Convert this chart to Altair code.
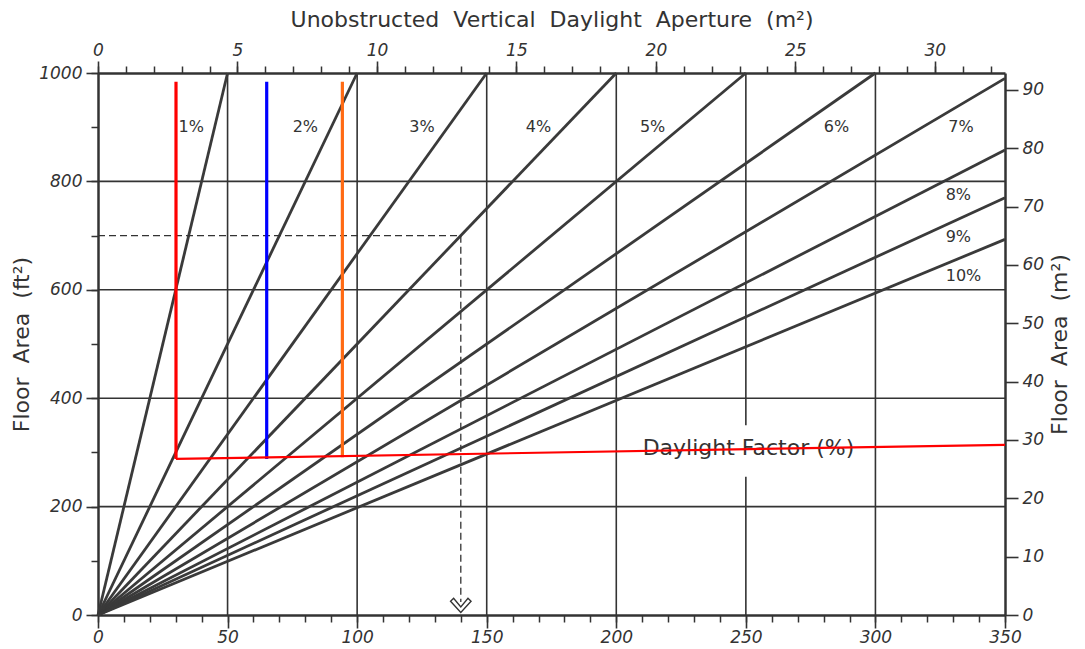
import altair as alt
import pandas as pd

FT2_PER_M2 = 10.764
INK = "#333333"
FONT = "DejaVu Sans"
NB = "\u00a0"

# Daylight-factor lines: each runs from the origin to its end point (ft² aperture, ft² floor)
df_names = ["1%", "2%", "3%", "4%", "5%", "6%", "7%", "8%", "9%", "10%"]
df_end_aperture = [50, 100, 150, 200, 250, 300, 350, 350, 350, 350]
df_end_floor = [1000, 1000, 1000, 1000, 1000, 1000, 990, 858, 770, 693]
df_label_x = [36, 80, 125, 170, 214, 285, 333, 332, 332, 334]
df_label_y = [900, 900, 900, 900, 900, 900, 901, 775, 697, 626]

# grid lines (vertical ones as segments; the 250 line is broken around the label)
grid_v_x = [50, 100, 150, 200, 250, 250, 300]
grid_v_from = [0, 0, 0, 0, 0, 350, 0]
grid_v_to = [1000, 1000, 1000, 1000, 255, 1000, 1000]
grid_h_y = [200, 400, 600, 800]

# axis tick values
bottom_major = list(range(0, 351, 50))
bottom_minor = list(range(0, 351, 10))
left_major = list(range(0, 1001, 200))
left_minor = list(range(0, 1001, 100))
top_major = list(range(0, 33, 5))
top_minor = list(range(0, 33))
right_ticks = list(range(0, 91, 10))

# highlighted apertures
mark_names = ["red", "blue", "orange"]
mark_x = [30.1, 65.1, 94.3]
mark_bottom = [288, 288, 291]
mark_top = [984, 984, 984]
mark_colors = ["#ff0000", "#0000ff", "#ff6a13"]

# red reference line
ref_x = [30.1, 350]
ref_y = [288, 314]

# worked example (dashed)
ex_x = [0, 140, 140]
ex_y = [700, 700, 24]
arrow_x = [140]
arrow_y = [14]

df_title = "Daylight Factor (%)"
df_title_x = [251]
df_title_y = [308]

top_title = f"Unobstructed{NB} Vertical{NB} Daylight{NB} Aperture{NB} (m²)"
left_title = f"Floor{NB} Area{NB} (ft²)"
right_title = f"Floor{NB} Area{NB} (m²)"

# ---------------------------------------------------------------- scales/axes
XS = alt.Scale(domain=[0, 350], nice=False, zero=False)
YS = alt.Scale(domain=[0, 1000], nice=False, zero=False)
XM = alt.Scale(domain=[0, 350 / FT2_PER_M2], nice=False, zero=False)
YM = alt.Scale(domain=[0, 1000 / FT2_PER_M2], nice=False, zero=False)

axis_common = dict(
    grid=False, tickWidth=1.6, tickColor=INK,
    domainColor=INK, domainWidth=2.5,
    labelFont=FONT, labelFontSize=17, labelFontStyle="italic", labelColor=INK,
    labelOverlap=False, labelFlush=False,
    titleFont=FONT, titleFontWeight="normal", titleColor=INK,
)
minor_common = dict(grid=False, tickWidth=1.5, tickColor=INK, tickSize=7,
                    labels=False, domain=False, title=None)

X_AXIS = alt.Axis(orient="bottom", values=bottom_major, title=None, tickSize=13,
                  labelPadding=1, **axis_common)
Y_AXIS = alt.Axis(orient="left", values=left_major, title=left_title, format="d",
                  tickSize=12, labelPadding=4, titlePadding=5, titleFontSize=22,
                  **axis_common)
TOP_AXIS = alt.Axis(orient="top", values=top_major, title=top_title, tickSize=12,
                    labelPadding=2, titlePadding=10, titleFontSize=22, **axis_common)
RIGHT_AXIS = alt.Axis(orient="right", values=right_ticks, title=right_title,
                      titleAngle=270, titleBaseline="top", tickSize=13, labelPadding=4,
                      titlePadding=6, titleFontSize=22, **axis_common)
X_MINOR = alt.Axis(orient="bottom", values=bottom_minor, **minor_common)
Y_MINOR = alt.Axis(orient="left", values=left_minor, **minor_common)
TOP_MINOR = alt.Axis(orient="top", values=top_minor, **minor_common)


def X(f):
    return alt.X(f"{f}:Q", scale=XS, axis=X_AXIS)


def Y(f):
    return alt.Y(f"{f}:Q", scale=YS, axis=Y_AXIS)


# ---------------------------------------------------------------- data tables
lines_rows = []
for n, ex, ey in zip(df_names, df_end_aperture, df_end_floor):
    lines_rows.append({"df": n, "ap": 0, "fl": 0, "o": 0})
    lines_rows.append({"df": n, "ap": ex, "fl": ey, "o": 1})
lines_df = pd.DataFrame(lines_rows)

labels_df = pd.DataFrame({"df": df_names, "ap": df_label_x, "fl": df_label_y})
gv_df = pd.DataFrame({"ap": grid_v_x, "f0": grid_v_from, "f1": grid_v_to})
gh_df = pd.DataFrame({"fl": grid_h_y})
marks_df = pd.DataFrame({"name": mark_names, "ap": mark_x, "f0": mark_bottom, "f1": mark_top})
ref_df = pd.DataFrame({"ap": [ref_x[0]], "ap2": [ref_x[1]], "fl": [ref_y[0]], "fl2": [ref_y[1]]})
ex_df = pd.DataFrame({"ap": ex_x, "fl": ex_y, "o": list(range(len(ex_x)))})
arrow_df = pd.DataFrame({"ap": arrow_x, "fl": arrow_y})
title_df = pd.DataFrame({"ap": df_title_x, "fl": df_title_y, "t": [df_title]})
ft_df = pd.DataFrame({"ap": [0, 350], "fl": [0, 1000]})
m2_df = pd.DataFrame({"ap_m2": [0, 350 / FT2_PER_M2], "fl_m2": [0, 1000 / FT2_PER_M2]})

# ---------------------------------------------------------------- layers
grid_v = alt.Chart(gv_df).mark_rule(color=INK, strokeWidth=1.6).encode(
    x=X("ap"), y=Y("f0"), y2="f1")
grid_h = alt.Chart(gh_df).mark_rule(color=INK, strokeWidth=1.6).encode(y=Y("fl"))

df_lines = alt.Chart(lines_df).mark_line(color="#3a3a3a", strokeWidth=2.8).encode(
    x=X("ap"), y=Y("fl"), detail="df:N", order="o:Q")

df_text = alt.Chart(labels_df).mark_text(font=FONT, fontSize=16, color=INK).encode(
    x=X("ap"), y=Y("fl"), text="df:N")

example = alt.Chart(ex_df).mark_line(color=INK, strokeWidth=1.3, strokeDash=[7, 4]).encode(
    x=X("ap"), y=Y("fl"), order="o:Q")

arrow = alt.Chart(arrow_df).mark_point(
    shape="M-1,-0.6L0,0.5L1,-0.6L0.7,-0.9L0,-0.05L-0.7,-0.9Z",
    size=420, filled=False, color=INK, strokeWidth=1.4, opacity=1).encode(
    x=X("ap"), y=Y("fl"))

colored = alt.Chart(marks_df).mark_rule(strokeWidth=3.2).encode(
    x=X("ap"), y=Y("f0"), y2="f1",
    color=alt.Color("name:N", scale=alt.Scale(domain=mark_names, range=mark_colors), legend=None))

ref_line = alt.Chart(ref_df).mark_rule(color="#ff0000", strokeWidth=2.2).encode(
    x=X("ap"), x2="ap2", y=Y("fl"), y2="fl2")

title_text = alt.Chart(title_df).mark_text(font=FONT, fontSize=22, color=INK).encode(
    x=X("ap"), y=Y("fl"), text="t:N")

main = alt.layer(grid_v, grid_h, df_lines, example, arrow, title_text, colored, ref_line, df_text)

# secondary (metric) axes
metric = alt.Chart(m2_df).mark_point(opacity=0).encode(
    x=alt.X("ap_m2:Q", scale=XM, axis=TOP_AXIS),
    y=alt.Y("fl_m2:Q", scale=YM, axis=RIGHT_AXIS),
)

# minor tick marks
minor_ft = alt.Chart(ft_df).mark_point(opacity=0).encode(
    x=alt.X("ap:Q", scale=XS, axis=X_MINOR),
    y=alt.Y("fl:Q", scale=YS, axis=Y_MINOR),
)
minor_m2 = alt.Chart(m2_df).mark_point(opacity=0).encode(
    x=alt.X("ap_m2:Q", scale=XM, axis=TOP_MINOR),
    y=alt.Y("fl_m2:Q", scale=YM, axis=None),
)

chart = alt.layer(minor_ft, minor_m2, main, metric).resolve_scale(
    x="independent", y="independent").properties(
    width=907, height=542,
    autosize=alt.AutoSizeParams(type="none"),
    padding={"left": 90, "top": 65, "right": 72, "bottom": 34},
    background="white",
).configure_view(stroke=None)

chart.save("out.html", embed_options={"renderer": "svg", "actions": False})
